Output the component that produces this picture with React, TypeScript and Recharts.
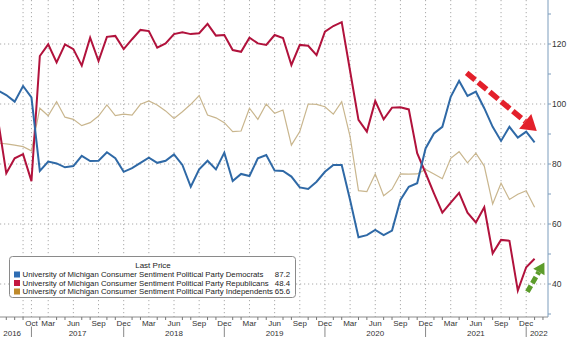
import React from 'react';
import { LineChart, Line, XAxis, YAxis, CartesianGrid, ReferenceLine } from 'recharts';

// Monthly observations, Sep 2016 .. Jan 2022
const months = [
  '2016-09', '2016-10', '2016-11', '2016-12',
  '2017-01', '2017-02', '2017-03', '2017-04', '2017-05', '2017-06', '2017-07', '2017-08', '2017-09', '2017-10', '2017-11', '2017-12',
  '2018-01', '2018-02', '2018-03', '2018-04', '2018-05', '2018-06', '2018-07', '2018-08', '2018-09', '2018-10', '2018-11', '2018-12',
  '2019-01', '2019-02', '2019-03', '2019-04', '2019-05', '2019-06', '2019-07', '2019-08', '2019-09', '2019-10', '2019-11', '2019-12',
  '2020-01', '2020-02', '2020-03', '2020-04', '2020-05', '2020-06', '2020-07', '2020-08', '2020-09', '2020-10', '2020-11', '2020-12',
  '2021-01', '2021-02', '2021-03', '2021-04', '2021-05', '2021-06', '2021-07', '2021-08', '2021-09', '2021-10', '2021-11', '2021-12',
  '2022-01',
];

const democrats = [
  104.5, 103, 100.8, 106,
  102.2, 77.7, 80.8, 80.2, 78.9, 79.3, 82.7, 81, 81.1, 83.9, 81.9, 77.4,
  78.6, 80.4, 82.1, 80.4, 81.1, 83.2, 79.7, 72.4, 78.2, 81.1, 78.2, 83.8,
  74.3, 76.7, 76, 81.9, 83, 77.8, 77.7, 75.8, 72.2, 71.7, 74.1, 77.4,
  79.7, 79.7, 68, 55.6, 56.3, 58, 56.3, 57.8, 68, 72.4, 73.6, 85.2,
  90.2, 92.4, 102.4, 107.7, 102.7, 104.1, 98.6, 92.4, 87.7, 92.4, 88.8, 90.8,
  87.2,
];

const republicans = [
  95, 76.9, 81.9, 83.3,
  74.3, 116, 119.9, 113.9, 119.9, 118.3, 112.8, 122.1, 114.3, 122.4, 122.7, 118.3,
  121.6, 124.7, 124.3, 118.8, 120.2, 123.3, 123.9, 123.3, 123.6, 126.7, 122.8, 123,
  118, 117.4, 122.1, 120.2, 119.7, 123, 122, 113, 119.7, 119.4, 116.3, 124.1,
  126, 127.3, 111, 94.7, 90.8, 101, 94.9, 98.8, 98.9, 98.2, 83.6, 77,
  70.2, 63.8, 67.1, 70.4, 63.8, 60.5, 65.6, 50.2, 54.7, 54.4, 37.8, 45.6,
  48.4,
];

const independents = [
  87, 86.7, 86.3, 85.8,
  84.4, 98.6, 96.1, 100.8, 95.6, 94.9, 92.8, 93.8, 96, 99.7, 96.1, 96.6,
  96.3, 99.9, 101, 99.7, 97.7, 95.2, 97.4, 99.9, 102.8, 96.3, 95.4, 93.8,
  90.8, 91, 98.6, 94.9, 100, 96.9, 98, 86.3, 90.8, 100, 99.9, 99.1,
  96.6, 100.8, 89.1, 71.1, 70.8, 76.7, 69.4, 71.6, 76.7, 76.6, 76.7, 78.2,
  76.7, 75.1, 81.9, 84.1, 80.4, 83.6, 79.3, 66.7, 73.6, 68.2, 69.9, 71.1,
  65.6,
];

const seriesNames = [
  'University of Michigan Consumer Sentiment Political Party Democrats',
  'University of Michigan Consumer Sentiment Political Party Republicans',
  'University of Michigan Consumer Sentiment Political Party Independents',
];
const lastValues = ['87.2', '48.4', '65.6'];

// Axis labels (positions in month-index units of the data)
const monthLabelPos = [4, 6, 9, 12, 15, 18, 21, 24, 27, 30, 33, 36, 39, 42, 45, 48, 51, 54, 57, 60, 63];
const monthLabelText = ['Oct', 'Mar', 'Jun', 'Sep', 'Dec', 'Mar', 'Jun', 'Sep', 'Dec', 'Mar', 'Jun', 'Sep', 'Dec', 'Mar', 'Jun', 'Sep', 'Dec', 'Mar', 'Jun', 'Sep', 'Dec'];
const yearLabelPos = [1.7, 9.5, 21, 33, 45, 57, 64.5];
const yearLabelText = ['2016', '2017', '2018', '2019', '2020', '2021', '2022'];
const yearSeparatorPos = [4, 15, 27, 39, 51, 63];
const verticalGridPos = [3, 4, 6, 9, 12, 15, 18, 21, 24, 27, 30, 33, 36, 39, 42, 45, 48, 51, 54, 57, 60, 63];
const yTicks = [30, 40, 50, 60, 70, 80, 90, 100, 110, 120, 130];
const yLabelTicks = [40, 60, 80, 100, 120];

// Annotation arrows (data coordinates)
const redArrow = [{ x: 55.9, y: 110.4 }, { x: 64.26, y: 91 }];
const greenArrow = [{ x: 63.14, y: 37.4 }, { x: 65.17, y: 47.2 }];

const data = months.map((mo, i) => ({
  i,
  mo,
  dem: democrats[i],
  rep: republicans[i],
  ind: independents[i],
}));

const monthTicks: number[] = [];
for (let k = 1; k <= 65; k++) monthTicks.push(k);
const xTicks = Array.from(new Set([...monthTicks, ...yearLabelPos])).sort((a, b) => a - b);

const FONT = "'Liberation Sans', Arial, sans-serif";
const BLUE = '#2f69a6';
const RED = '#b1123c';
const TAN = '#c9b68e';
const AXIS_BLUE = '#7d9dbd';

const XTick = (props: any) => {
  const { x, y, payload } = props;
  const v = payload.value;
  const mi = monthLabelPos.indexOf(v);
  const yi = yearLabelPos.indexOf(v);
  const isSep = yearSeparatorPos.includes(v);
  const isInt = Number.isInteger(v);
  return (
    <g>
      {isInt && mi < 0 && <line x1={x} x2={x} y1={y} y2={y + 3} stroke="#777" strokeWidth={1} />}
      {mi >= 0 && (
        <text x={x} y={y + 9} textAnchor="middle" fontSize={8} fontFamily={FONT} fill="#333">
          {monthLabelText[mi]}
        </text>
      )}
      {yi >= 0 && (
        <text x={x} y={y + 18.7} textAnchor="middle" fontSize={8} fontFamily={FONT} fill="#333">
          {yearLabelText[yi]}
        </text>
      )}
      {isSep && <line x1={x} x2={x} y1={y + 9.5} y2={y + 20} stroke="#888" strokeWidth={1} />}
    </g>
  );
};

const YTick = (props: any) => {
  const { x, y, payload } = props;
  const major = yLabelTicks.includes(payload.value);
  return (
    <g>
      <line x1={x} x2={x + 3} y1={y} y2={y} stroke={AXIS_BLUE} strokeWidth={1} />
      {major && (
        <text x={x + 4} y={y + 3} fontSize={8.5} fontFamily={FONT} fill="#333">
          {payload.value}
        </text>
      )}
    </g>
  );
};

const makeArrow = (color: string, width: number, dash: string, headLen: number, headW: number) => (p: any) => {
  const { x1, y1, x2, y2 } = p;
  const dx = x2 - x1;
  const dy = y2 - y1;
  const L = Math.hypot(dx, dy) || 1;
  const ux = dx / L;
  const uy = dy / L;
  const bx = x2 - ux * headLen;
  const by = y2 - uy * headLen;
  const px = -uy;
  const py = ux;
  return (
    <g>
      <line x1={x1} y1={y1} x2={bx} y2={by} stroke={color} strokeWidth={width} strokeDasharray={dash} />
      <polygon
        points={`${x2},${y2} ${bx + (px * headW) / 2},${by + (py * headW) / 2} ${bx - (px * headW) / 2},${by - (py * headW) / 2}`}
        fill={color}
      />
    </g>
  );
};

const legendColors = ['#2f6db3', '#c3173f', '#bf8a2c'];

const LegendBox = () => (
  <div style={{ position: 'absolute', left: 9, top: 256, width: 287, height: 42 }}>
    <svg width={287} height={42}>
      <rect x={0.5} y={0.5} width={286} height={41} rx={3} fill="#fff" stroke="#8a8a8a" strokeWidth={1} />
      <text x={144} y={11.7} textAnchor="middle" fontSize={8} fontFamily={FONT} fill="#222">
        Last Price
      </text>
      {seriesNames.map((n, k) => (
        <g key={n}>
          <rect x={5} y={15.5 + k * 8.5} width={6} height={6} fill={legendColors[k]} />
          <text x={13.5} y={21 + k * 8.5} fontSize={7.8} fontFamily={FONT} fill="#222">
            {n}
          </text>
          <text x={281} y={21 + k * 8.5} textAnchor="end" fontSize={7.8} fontFamily={FONT} fill="#222">
            {lastValues[k]}
          </text>
        </g>
      ))}
    </svg>
  </div>
);

export default function App() {
  return (
    <div style={{ position: 'absolute', left: 0, top: 0, width: 567, height: 337, background: '#fff' }}>
      <LineChart width={567} height={337} data={data} margin={{ top: 0, right: 0, bottom: 0, left: 0 }}>
        <CartesianGrid
          stroke="#aaaaaa"
          strokeDasharray="1.2 2.8"
          horizontalValues={yLabelTicks}
          verticalValues={verticalGridPos}
        />
        <XAxis
          dataKey="i"
          type="number"
          domain={[0.25, 65.6]}
          allowDataOverflow
          ticks={xTicks}
          interval={0}
          tick={<XTick />}
          tickLine={false}
          tickSize={0}
          tickMargin={0}
          axisLine={{ stroke: '#8c8c8c' }}
          height={20}
        />
        <YAxis
          orientation="right"
          type="number"
          domain={[29, 134.67]}
          allowDataOverflow
          ticks={yTicks}
          interval={0}
          tick={<YTick />}
          tickLine={false}
          tickSize={0}
          tickMargin={0}
          axisLine={{ stroke: AXIS_BLUE }}
          width={19}
        />
        <Line type="linear" dataKey="ind" stroke={TAN} strokeWidth={1.2} dot={false} isAnimationActive={false} />
        <Line type="linear" dataKey="rep" stroke={RED} strokeWidth={2} dot={false} isAnimationActive={false} />
        <Line type="linear" dataKey="dem" stroke={BLUE} strokeWidth={2} dot={false} isAnimationActive={false} />
        <ReferenceLine
          segment={redArrow}
          ifOverflow="visible"
          shape={makeArrow('#e3202b', 5.5, '11 4', 15, 19)}
        />
        <ReferenceLine
          segment={greenArrow}
          ifOverflow="visible"
          shape={makeArrow('#5c9c2b', 5, '7 3', 11, 13)}
        />
      </LineChart>
      <LegendBox />
    </div>
  );
}
